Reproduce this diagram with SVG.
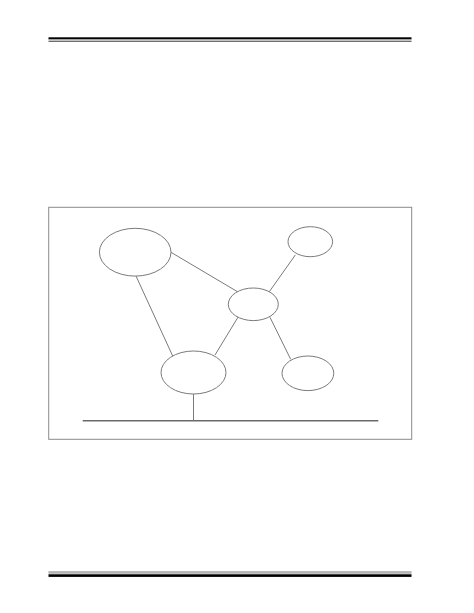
<svg xmlns="http://www.w3.org/2000/svg" width="474" height="613" viewBox="0 0 474 613">
<style>
.node{fill:#fff;stroke:#7a7a7a;stroke-width:1}
.conn{stroke:#7a7a7a;stroke-width:1;fill:none}
.rule{stroke:#000}
</style>
<rect width="474" height="613" fill="#fff"/>
<g id="header-rule">
<rect x="48.5" y="37.3" width="363" height="2.2" fill="#000"/>
<rect x="48.5" y="39.5" width="363" height="1.6" fill="#c4c4c4"/>
<rect x="48.5" y="41.1" width="363" height="0.7" fill="#333"/>
</g>
<g id="footer-rule">
<rect x="48.5" y="571.6" width="363" height="0.9" fill="#555"/>
<rect x="48.5" y="572.5" width="363" height="1.8" fill="#c4c4c4"/>
<rect x="48.5" y="574.3" width="363" height="2.6" fill="#000"/>
</g>
<rect id="frame" x="48.7" y="207.3" width="363" height="232" fill="none" stroke="#8a8a8a" stroke-width="1"/>
<g id="connectors">
<line class="conn" x1="171" y1="252.3" x2="238" y2="292"/>
<line class="conn" x1="136" y1="276" x2="172.7" y2="356"/>
<line class="conn" x1="215" y1="355" x2="238.3" y2="316.7"/>
<line class="conn" x1="269.3" y1="291.7" x2="295.3" y2="255"/>
<line class="conn" x1="270" y1="317.3" x2="290.7" y2="359.3"/>
<line class="conn" x1="193.5" y1="394" x2="193.5" y2="420.7"/>
</g>
<g id="bus"><line x1="82.7" y1="420.7" x2="378.3" y2="420.7" stroke="#6a6a6a" stroke-width="1.5"/></g>
<g id="node-a"><ellipse class="node" cx="135.2" cy="252.2" rx="35.8" ry="23.9"/></g>
<g id="node-b"><ellipse class="node" cx="193.5" cy="372.5" rx="32.5" ry="21.5"/></g>
<g id="node-c"><ellipse class="node" cx="253.3" cy="304.3" rx="25" ry="16.3"/></g>
<g id="node-d"><ellipse class="node" cx="310.3" cy="241.7" rx="22.3" ry="15"/></g>
<g id="node-e"><ellipse class="node" cx="307.9" cy="373.3" rx="25.9" ry="17.3"/></g>
</svg>
